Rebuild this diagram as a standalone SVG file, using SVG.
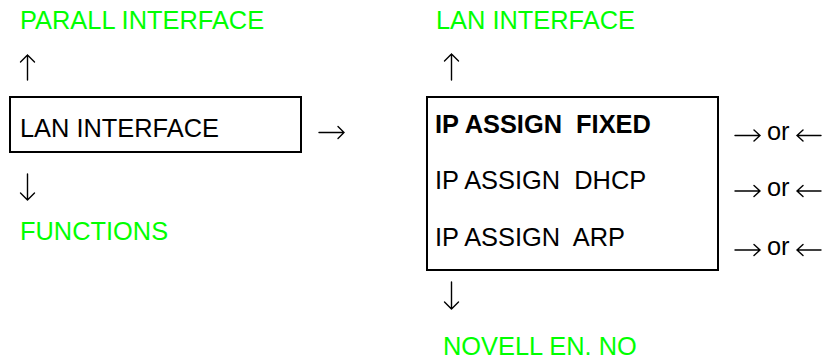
<svg xmlns="http://www.w3.org/2000/svg" width="822" height="360" viewBox="0 0 822 360">
<style>
text{font-family:"Liberation Sans",Arial,sans-serif;font-size:25.4px;fill:#000;white-space:pre}
.g{fill:#00FF00}
.b{font-weight:bold}
.box{fill:#fff;stroke:#000;stroke-width:2}
.arr{fill:none;stroke:#000;stroke-width:1.4;stroke-linecap:round;stroke-linejoin:miter}
</style>
<rect width="822" height="360" fill="#fff"/>
<g id="parall"><text class="g" x="20" y="29">PARALL INTERFACE</text></g>
<g id="lan-target"><text class="g" x="436" y="29">LAN INTERFACE</text></g>
<g id="lan-box"><rect class="box" x="10" y="97" width="291" height="55"/><text x="20" y="137">LAN INTERFACE</text></g>
<g id="functions"><text class="g" x="20" y="240">FUNCTIONS</text></g>
<g id="ip-box"><rect class="box" x="427" y="97" width="291" height="173"/>
<text class="b" x="435" y="133">IP ASSIGN  FIXED</text>
<text x="435" y="189">IP ASSIGN  DHCP</text>
<text x="435" y="246">IP ASSIGN  ARP</text></g>
<g id="novell"><text class="g" x="443" y="355">NOVELL EN. NO</text></g>
<g id="connectors">
<path class="arr" d="M27.5,80 V55 M20.5,62 L27.5,55 L34.5,62"/>
<path class="arr" d="M27.5,174 V200 M20.5,193 L27.5,200 L34.5,193"/>
<path class="arr" d="M319,132.5 H344 M338,126.5 L344,132.5 L338,138.5"/>
<path class="arr" d="M451.5,80 V54 M444.5,61 L451.5,54 L458.5,61"/>
<path class="arr" d="M451.5,282 V309 M444.5,302 L451.5,309 L458.5,302"/>
<path class="arr" d="M735,135.5 H760 M754,130 L760,135.5 L754,141 M821,135.5 H797 M803,130 L797,135.5 L803,141"/>
<path class="arr" d="M735,191 H760 M754,185.5 L760,191 L754,196.5 M821,191 H797 M803,185.5 L797,191 L803,196.5"/>
<path class="arr" d="M735,250 H760 M754,244.5 L760,250 L754,255.5 M821,250 H797 M803,244.5 L797,250 L803,255.5"/>
<text x="767" y="140">or</text>
<text x="767" y="196">or</text>
<text x="767" y="255">or</text>
</g>
</svg>
